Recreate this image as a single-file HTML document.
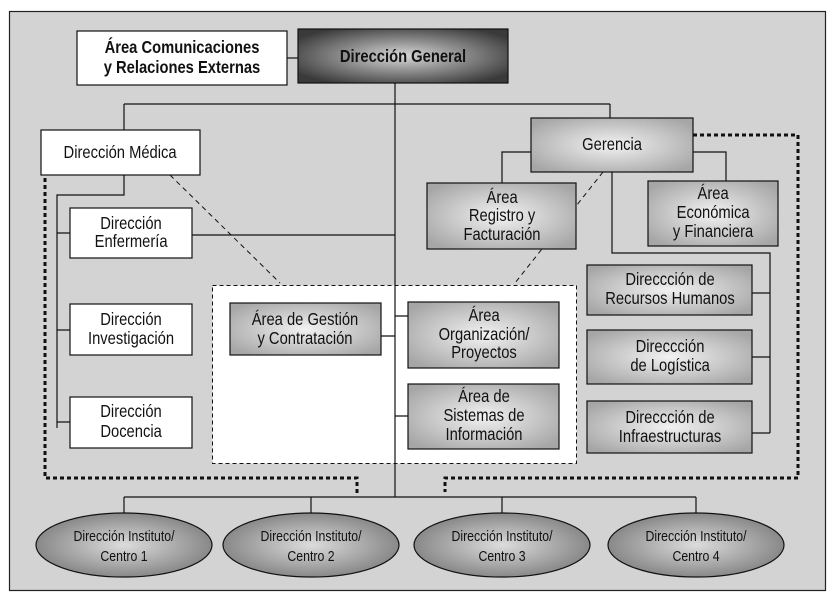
<!DOCTYPE html><html><head><meta charset="utf-8"><style>body{margin:0;background:#fff}svg{display:block}text{font-family:"Liberation Sans",sans-serif;font-size:18px;fill:#111;text-anchor:middle;transform-box:fill-box;transform-origin:center;transform:scaleX(0.82)}</style></head><body>
<svg width="830" height="599" viewBox="0 0 830 599">
<defs>
<radialGradient id="dg" cx="50%" cy="50%" r="60%"><stop offset="0" stop-color="#d8d8d8"/><stop offset="1" stop-color="#3a3a3a"/></radialGradient>
<radialGradient id="gg" cx="50%" cy="50%" r="62%"><stop offset="0" stop-color="#f2f2f2"/><stop offset="1" stop-color="#a6a6a6"/></radialGradient>
<radialGradient id="eg" cx="50%" cy="50%" r="55%"><stop offset="0" stop-color="#dcdcdc"/><stop offset="1" stop-color="#808080"/></radialGradient>
</defs>
<rect x="9.5" y="11.5" width="816" height="579" fill="#d3d3d3" stroke="#222" stroke-width="1.2"/>
<g stroke="#111" stroke-width="1.2" fill="none">
<path d="M395 83V497M124 104H610M124 104V130M610 104V118"/>
<path d="M124 175V195H57V428M57 233H70M57 330H70M57 422H70M192 235H395"/>
<path d="M531 152H502V183M693 152H726V181M612 172V253H770V433M752 293H770M752 357H770M752 433H770"/>
<path d="M124 497H696M124 497V513M311 497V513M502 497V513M696 497V513"/>
<path d="M287 58H298"/>
</g>
<rect x="212.5" y="285.5" width="364" height="178" fill="#fff" stroke="#111" stroke-dasharray="4,3"/>
<g stroke="#111" stroke-width="1.2" fill="none">
<path d="M395 285V463M381 336H395M395 316H408M395 416H408"/>
</g>
<g stroke="#111" stroke-dasharray="5,4" fill="none"><path d="M170 175L280 283M603 172L515 283"/></g>
<g stroke="#111" stroke-width="3" stroke-dasharray="4,3" fill="none">
<path d="M693 135H798V478H445V492M45 178V478H357V495"/>
</g>
<g stroke="#111" stroke-width="1.2">
<rect x="77" y="31" width="210" height="54" fill="#fff"/>
<rect x="298" y="29" width="210" height="54" fill="url(#dg)"/>
<rect x="41" y="130" width="159" height="45" fill="#fff"/>
<rect x="531" y="118" width="162" height="54" fill="url(#gg)"/>
<rect x="70" y="208" width="122" height="50" fill="#fff"/>
<rect x="70" y="304" width="122" height="51" fill="#fff"/>
<rect x="70" y="397" width="122" height="51" fill="#fff"/>
<rect x="427" y="183" width="149" height="66" fill="url(#gg)"/>
<rect x="648" y="181" width="130" height="65" fill="url(#gg)"/>
<rect x="230" y="303" width="151" height="52" fill="url(#gg)"/>
<rect x="408" y="302" width="151" height="66" fill="url(#gg)"/>
<rect x="408" y="384" width="151" height="65" fill="url(#gg)"/>
<rect x="587" y="265" width="165" height="50" fill="url(#gg)"/>
<rect x="587" y="330" width="165" height="54" fill="url(#gg)"/>
<rect x="587" y="401" width="165" height="52" fill="url(#gg)"/>
<ellipse cx="124" cy="545" rx="88" ry="32" fill="url(#eg)"/>
<ellipse cx="311" cy="545" rx="88" ry="32" fill="url(#eg)"/>
<ellipse cx="502" cy="545" rx="88" ry="32" fill="url(#eg)"/>
<ellipse cx="696" cy="545" rx="88" ry="32" fill="url(#eg)"/>
</g>
<text x="182" y="53" style="font-weight:bold">Área Comunicaciones</text><text x="182" y="73" style="font-weight:bold">y Relaciones Externas</text><text x="403" y="62" style="font-weight:bold">Dirección General</text>
<text x="120" y="158">Dirección Médica</text>
<text x="612" y="150">Gerencia</text>
<text x="131" y="229">Dirección</text><text x="131" y="247">Enfermería</text>
<text x="131" y="325">Dirección</text><text x="131" y="344">Investigación</text>
<text x="131" y="417">Dirección</text><text x="131" y="437">Docencia</text>
<text x="502" y="203">Área</text><text x="502" y="221">Registro y</text><text x="502" y="240">Facturación</text>
<text x="713" y="199">Área</text><text x="713" y="218">Económica</text><text x="713" y="237">y Financiera</text>
<text x="305" y="325">Área de Gestión</text><text x="305" y="344">y Contratación</text>
<text x="484" y="321">Área</text><text x="484" y="340">Organización/</text><text x="484" y="358">Proyectos</text>
<text x="484" y="402">Área de</text><text x="484" y="421">Sistemas de</text><text x="484" y="440">Información</text>
<text x="670" y="285">Direccción de</text><text x="670" y="304">Recursos Humanos</text>
<text x="670" y="352">Direccción</text><text x="670" y="371">de Logística</text>
<text x="670" y="423">Direccción de</text><text x="670" y="442">Infraestructuras</text>
<text x="124" y="541" style="font-size:15px">Dirección Instituto/</text><text x="124" y="561" style="font-size:15px">Centro 1</text>
<text x="311" y="541" style="font-size:15px">Dirección Instituto/</text><text x="311" y="561" style="font-size:15px">Centro 2</text>
<text x="502" y="541" style="font-size:15px">Dirección Instituto/</text><text x="502" y="561" style="font-size:15px">Centro 3</text>
<text x="696" y="541" style="font-size:15px">Dirección Instituto/</text><text x="696" y="561" style="font-size:15px">Centro 4</text>
</svg></body></html>
